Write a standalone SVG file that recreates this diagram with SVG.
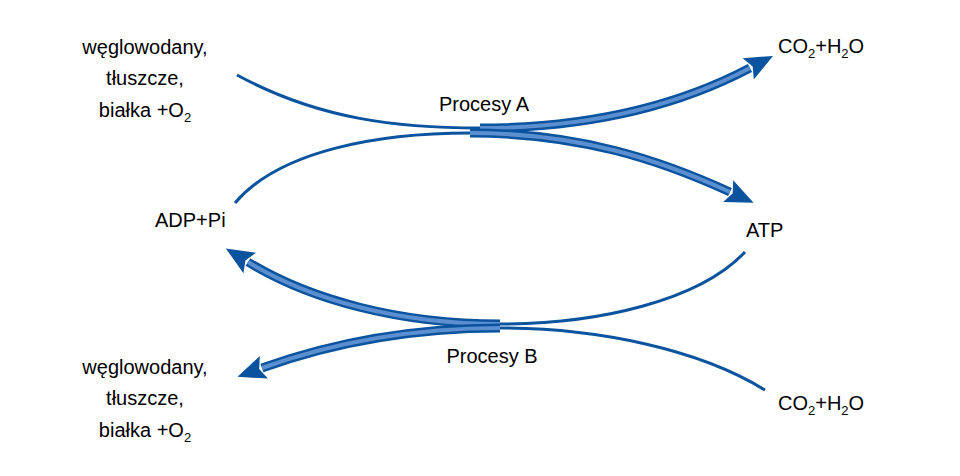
<svg xmlns="http://www.w3.org/2000/svg" width="960" height="476" viewBox="0 0 960 476">
<style>
text{font-family:"Liberation Sans",Arial,sans-serif;font-size:20px;fill:#000}
.thin{fill:none;stroke:#0a539e;stroke-width:3}
.outer{fill:none;stroke:#0a539e;stroke-width:9}
.inner{fill:none;stroke:#5b8fd0;stroke-width:4}
.m{text-anchor:middle}
</style>
<defs>
<marker id="ah" markerUnits="userSpaceOnUse" markerWidth="30" markerHeight="30" viewBox="0 0 30 30" refX="2" refY="15" orient="auto">
<path d="M0,3 L28,15 L0,27 L5,15 Z" fill="#0a539e"/>
</marker>
</defs>
<g id="connectors">
<path class="thin" d="M237,75 C320,120 400,128 480,128"/>
<path class="outer" d="M480,128 C580,128 670,110 750,68" marker-end="url(#ah)"/>
<path class="inner" d="M480,128 C580,128 670,110 750,68"/>
<path class="thin" d="M235,203 C280,150 380,133 470,133"/>
<path class="outer" d="M470,133 C580,133 660,160 730,192" marker-end="url(#ah)"/>
<path class="inner" d="M470,133 C580,133 660,160 730,192"/>
<path class="thin" d="M745,252 C700,300 600,324 500,324"/>
<path class="outer" d="M500,324 C400,324 310,300 248,262" marker-end="url(#ah)"/>
<path class="inner" d="M500,324 C400,324 310,300 248,262"/>
<path class="thin" d="M765,390 C700,350 600,328 500,328"/>
<path class="outer" d="M500,328 C420,328 340,340 262,368" marker-end="url(#ah)"/>
<path class="inner" d="M500,328 C420,328 340,340 262,368"/>
</g>
<g id="src-top"><text class="m" x="145" y="54">węglowodany,</text><text class="m" x="145" y="85">tłuszcze,</text><text class="m" x="145" y="117">białka +O<tspan font-size="13" dy="5">2</tspan></text></g>
<g id="src-bottom"><text class="m" x="145" y="374">węglowodany,</text><text class="m" x="145" y="405">tłuszcze,</text><text class="m" x="145" y="437">białka +O<tspan font-size="13" dy="5">2</tspan></text></g>
<g id="co2-top"><text x="778" y="53">CO<tspan font-size="13" dy="5">2</tspan><tspan dy="-5">+H</tspan><tspan font-size="13" dy="5">2</tspan><tspan dy="-5">O</tspan></text></g>
<g id="co2-bottom"><text x="778" y="410">CO<tspan font-size="13" dy="5">2</tspan><tspan dy="-5">+H</tspan><tspan font-size="13" dy="5">2</tspan><tspan dy="-5">O</tspan></text></g>
<g id="adp"><text x="155" y="227">ADP+Pi</text></g>
<g id="atp"><text x="746" y="237">ATP</text></g>
<g id="procA"><text class="m" x="484" y="111">Procesy A</text></g>
<g id="procB"><text class="m" x="492" y="363">Procesy B</text></g>
</svg>
